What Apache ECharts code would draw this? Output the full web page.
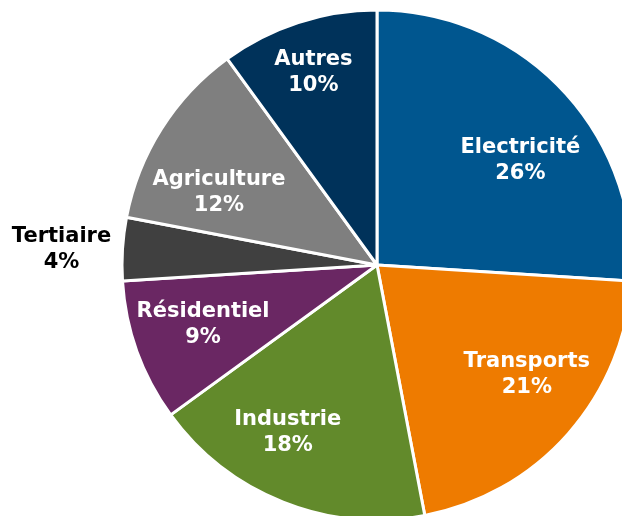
<!DOCTYPE html>
<html>
<head>
<meta charset="utf-8">
<script src="https://cdn.jsdelivr.net/npm/echarts@6/dist/echarts.min.js"></script>
<style>
  html, body { margin: 0; padding: 0; background: #fff; }
  #chart { width: 622px; height: 516px; }
</style>
</head>
<body>
<div id="chart"></div>
<script>
// données (sens horaire depuis midi)
const categories = ['Electricité', 'Transports', 'Industrie', 'Résidentiel', 'Tertiaire', 'Agriculture', 'Autres'];
const values = [26, 21, 18, 9, 4, 12, 10];
const colors = ['#00568F', '#EE7B00', '#628A2B', '#6A2763', '#404040', '#7F7F7F', '#00325A'];

// placement des étiquettes : rayon (px) et décalage d'angle (degrés) par rapport au milieu de la part
const labelRadius = [179, 184, 187, 183, 316, 175, 206];
const labelShift = [-6.4, 5.9, -6.9, -1.7, 0.3, 7, 0];

const cx = 377, cy = 265, R = 255;
const total = values.reduce((a, b) => a + b, 0);

// angle médian de chaque part, en degrés (0 = droite, sens trigo)
const midAngles = [];
let acc = 0;
values.forEach(v => {
  midAngles.push(90 - (acc + v / 2) / total * 360);
  acc += v;
});

const chart = echarts.init(document.getElementById('chart'));

chart.setOption({
  animation: false,
  series: [{
    type: 'pie',
    center: [cx, cy],
    radius: [0, R],
    startAngle: 90,
    clockwise: true,
    avoidLabelOverlap: false,
    itemStyle: { borderColor: '#fff', borderWidth: 3 },
    label: {
      show: true,
      position: 'inside',
      formatter: p => p.name + '\n' + p.value + '%',
      fontFamily: 'DejaVu Sans',
      fontWeight: 'bold',
      fontSize: 21,
      lineHeight: 26,
      color: '#fff',
      align: 'center',
      verticalAlign: 'middle'
    },
    labelLine: { show: false },
    labelLayout: function (params) {
      const i = params.dataIndex;
      const a = (midAngles[i] + labelShift[i]) * Math.PI / 180;
      const r = labelRadius[i];
      return {
        x: cx + r * Math.cos(a),
        y: cy - r * Math.sin(a) + 3,
        align: 'center',
        verticalAlign: 'middle'
      };
    },
    data: categories.map((name, i) => ({
      name: name,
      value: values[i],
      itemStyle: { color: colors[i] },
      label: name === 'Tertiaire' ? { color: '#000' } : undefined
    }))
  }]
});
</script>
</body>
</html>
